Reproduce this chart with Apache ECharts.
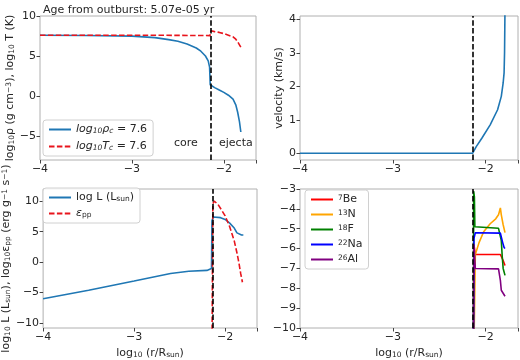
<!DOCTYPE html>
<html>
<head>
<meta charset="utf-8">
<script src="https://cdn.jsdelivr.net/npm/echarts@6/dist/echarts.min.js"></script>
<style>
  html, body { margin: 0; padding: 0; background: #fff; }
  #chart { width: 520px; height: 360px; }
</style>
</head>
<body>
<div id="chart"></div>
<script>
// --- data ---
const coreBoundary = -2.14;
const xTicks = [-4, -3, -2];

// top left: density and temperature
const rhoX = [-4, -3.5, -3, -2.75, -2.6, -2.5, -2.4, -2.3, -2.25, -2.2, -2.17, -2.155, -2.148, -2.1, -2.05, -2.0, -1.95, -1.9, -1.87, -1.85, -1.83, -1.815];
const rhoY = [7.6, 7.57, 7.48, 7.3, 7.05, 6.85, 6.5, 6.0, 5.6, 5.0, 4.4, 3.6, 1.4, 1.05, 0.75, 0.45, 0.1, -0.4, -1.1, -2.0, -3.2, -4.5];
const tempX = [-4, -3, -2.5, -2.15, -2.14, -2.1, -2.05, -2.0, -1.95, -1.9, -1.87, -1.85, -1.83, -1.815];
const tempY = [7.6, 7.6, 7.58, 7.55, 8.15, 8.05, 7.95, 7.8, 7.6, 7.4, 7.1, 6.8, 6.4, 6.1];

// top right: velocity
const velX = [-4, -2.14, -2.1, -2.04, -1.95, -1.87, -1.83, -1.81, -1.8, -1.795, -1.79];
const velY = [0, 0, 0.2, 0.45, 0.85, 1.3, 1.7, 2.1, 2.4, 3.0, 4.4];

// bottom left: luminosity and pp energy rate
const lumX = [-4, -3.5, -3, -2.6, -2.4, -2.2, -2.15, -2.145, -2.13, -2.11, -2.05, -2.0, -1.95, -1.9, -1.87, -1.85, -1.82, -1.8];
const lumY = [-6.0, -4.6, -3.1, -1.85, -1.5, -1.35, -1.05, 6.8, 7.4, 7.55, 7.3, 7.0, 6.4, 5.6, 4.8, 4.55, 4.45, 4.45];
const eppX = [-2.145, -2.135, -2.12, -2.08, -2.05, -2.0, -1.95, -1.9, -1.87, -1.85, -1.83, -1.81];
const eppY = [-15, 9.6, 10.0, 9.5, 8.8, 7.6, 5.8, 3.5, 1.5, 0, -1.8, -3.3];

// bottom right: isotope abundances
const be7X = [-2.13, -2.125, -2.11, -1.84, -1.83, -1.81, -1.79];
const be7Y = [-11, -5.8, -6.3, -6.3, -6.35, -6.6, -6.85];
const n13X = [-2.125, -2.11, -2.07, -2.02, -1.95, -1.89, -1.86, -1.84, -1.83, -1.81, -1.79];
const n13Y = [-11, -6.3, -5.7, -5.15, -4.75, -4.5, -4.3, -3.95, -4.3, -4.8, -5.2];
const f18X = [-2.13, -2.128, -2.12, -2.115, -2.11, -1.86, -1.84, -1.83, -1.82, -1.81, -1.79];
const f18Y = [-11, -3.1, -3.4, -4.9, -4.95, -4.98, -5.0, -5.6, -6.4, -7.0, -7.35];
const na22X = [-2.13, -2.125, -2.11, -1.84, -1.83, -1.815, -1.8, -1.79];
const na22Y = [-11, -5.5, -5.2, -5.22, -5.3, -5.7, -5.95, -6.0];
const al26X = [-2.13, -2.125, -2.11, -1.86, -1.85, -1.84, -1.83, -1.81, -1.79];
const al26Y = [-11, -5.8, -7.0, -7.02, -7.1, -7.6, -8.1, -8.25, -8.4];

const FONT = 'DejaVu Sans';
const TXT = '#262626';

function pairs(xs, ys) {
  return xs.map((x, i) => [x, ys[i]]);
}
function minus(v) {
  return String(v).replace('-', '\u2212');
}

const rich = {
  n: { fontSize: 11, fontFamily: FONT, color: TXT },
  s: { fontSize: 7.5, fontFamily: FONT, color: TXT, verticalAlign: 'bottom' },
  p: { fontSize: 7.5, fontFamily: FONT, color: TXT, verticalAlign: 'top' },
  i: { fontSize: 11, fontFamily: FONT, color: TXT, fontStyle: 'italic' },
  is: { fontSize: 7.5, fontFamily: FONT, color: TXT, fontStyle: 'italic', verticalAlign: 'bottom' }
};

const legendText = {
  rho: '{i|log}{is|10}{i|\u03c1}{is|c}{n| = 7.6}',
  T: '{i|log}{is|10}{i|T}{is|c}{n| = 7.6}',
  L: '{n|log L (L}{s|sun}{n|)}',
  epp: '{i|\u03b5}{s|pp}',
  be7: '{p|7}{n|Be}',
  n13: '{p|13}{n|N}',
  f18: '{p|18}{n|F}',
  na22: '{p|22}{n|Na}',
  al26: '{p|26}{n|Al}'
};

const grids = [
  { left: 40, top: 16, width: 216, height: 144 },
  { left: 300, top: 16, width: 218, height: 144 },
  { left: 40, top: 189, width: 217, height: 144 },
  { left: 300, top: 189, width: 218, height: 144 }
].map(g => Object.assign(g, { show: true, borderColor: '#b0b0b0', borderWidth: 1, backgroundColor: 'transparent' }));

function xAxis(idx, withName) {
  return {
    type: 'value', gridIndex: idx, min: -4, max: -1.65, interval: 1,
    splitLine: { show: false },
    axisLine: { show: false, onZero: false },
    axisTick: { show: true, length: 3.5, lineStyle: { color: '#444' } },
    axisLabel: { fontSize: 11, fontFamily: FONT, color: TXT, margin: 4, formatter: minus,
                 customValues: xTicks },
    name: withName ? '{n|log}{s|10}{n| (r/R}{s|sun}{n|)}' : '',
    nameLocation: 'middle', nameGap: 20,
    nameTextStyle: { rich: rich }
  };
}
function yAxis(idx, min, max, ticks, name, gap) {
  return {
    type: 'value', gridIndex: idx, min: min, max: max,
    splitLine: { show: false },
    axisLine: { show: false, onZero: false },
    axisTick: { show: true, length: 3.5, lineStyle: { color: '#444' }, customValues: ticks },
    axisLabel: { fontSize: 11, fontFamily: FONT, color: TXT, margin: 4, formatter: minus,
                 customValues: ticks },
    name: name, nameLocation: 'middle', nameRotate: 90, nameGap: gap,
    nameTextStyle: { rich: rich }
  };
}

const boundaryLine = {
  symbol: ['none', 'none'], silent: true, animation: false,
  label: { show: false },
  lineStyle: { color: '#000', type: [5.5, 2.4], width: 1.6 },
  data: [{ xAxis: coreBoundary }]
};

function line(name, idx, xs, ys, color, dashed, mark) {
  const s = {
    name: name, type: 'line', xAxisIndex: idx, yAxisIndex: idx,
    data: pairs(xs, ys), symbol: 'none', animation: false,
    lineStyle: { color: color, width: 1.6, type: dashed ? [5.5, 2.4] : 'solid' },
    itemStyle: { color: color }
  };
  if (mark) s.markLine = boundaryLine;
  return s;
}

function legend(names, left, top, gap) {
  return {
    data: names, orient: 'vertical', left: left, top: top,
    itemWidth: 22, itemHeight: 10, itemGap: gap,
    padding: [4, 6, 4, 5],
    borderColor: '#d0d0d0', borderWidth: 1, borderRadius: 3,
    backgroundColor: 'rgba(255,255,255,0.85)',
    itemStyle: { opacity: 0, borderWidth: 0 },
    formatter: n => legendText[n],
    textStyle: { rich: rich }
  };
}

const chart = echarts.init(document.getElementById('chart'));
chart.setOption({
  backgroundColor: '#fff',
  animation: false,
  title: {
    text: 'Age from outburst: 5.07e-05 yr', left: 38, top: 0,
    textStyle: { fontSize: 11, fontWeight: 'normal', fontFamily: FONT, color: TXT }
  },
  grid: grids,
  xAxis: [xAxis(0, false), xAxis(1, false), xAxis(2, true), xAxis(3, true)],
  yAxis: [
    yAxis(0, -8, 10, [-5, 0, 5, 10], '{n|log}{s|10}{n|\u03c1 (g cm}{p|\u22123}{n|), log}{s|10}{n| T (K)}', 24),
    yAxis(1, -0.2, 4.1, [0, 1, 2, 3, 4], '{n|velocity (km/s)}', 12),
    yAxis(2, -10.8, 12, [-10, -5, 0, 5, 10], '{n|log}{s|10}{n| L (L}{s|sun}{n|), log}{s|10}{n|\u03b5}{s|pp}{n| (erg g}{p|\u22121}{n| s}{p|\u22121}{n|)}', 28),
    yAxis(3, -10, -3, [-10, -9, -8, -7, -6, -5, -4, -3], '', 20)
  ],
  legend: [
    legend(['rho', 'T'], 43, 120, 6),
    legend(['L', 'epp'], 43, 188, 5),
    legend(['be7', 'n13', 'f18', 'na22', 'al26'], 305, 190, 4)
  ],
  graphic: [
    { type: 'text', left: 174, top: 138, style: { text: 'core', font: '11px "DejaVu Sans"', fill: TXT } },
    { type: 'text', left: 219, top: 138, style: { text: 'ejecta', font: '11px "DejaVu Sans"', fill: TXT } }
  ],
  series: [
    line('rho', 0, rhoX, rhoY, '#1f77b4', false, false),
    line('T', 0, tempX, tempY, '#e8141c', true, true),
    line('vel', 1, velX, velY, '#1f77b4', false, true),
    line('L', 2, lumX, lumY, '#1f77b4', false, false),
    line('epp', 2, eppX, eppY, '#e8141c', true, true),
    line('be7', 3, be7X, be7Y, '#ff0000', false, false),
    line('n13', 3, n13X, n13Y, '#ffa500', false, false),
    line('f18', 3, f18X, f18Y, '#008000', false, false),
    line('na22', 3, na22X, na22Y, '#0000ff', false, false),
    line('al26', 3, al26X, al26Y, '#800080', false, true)
  ]
});
</script>
</body>
</html>
